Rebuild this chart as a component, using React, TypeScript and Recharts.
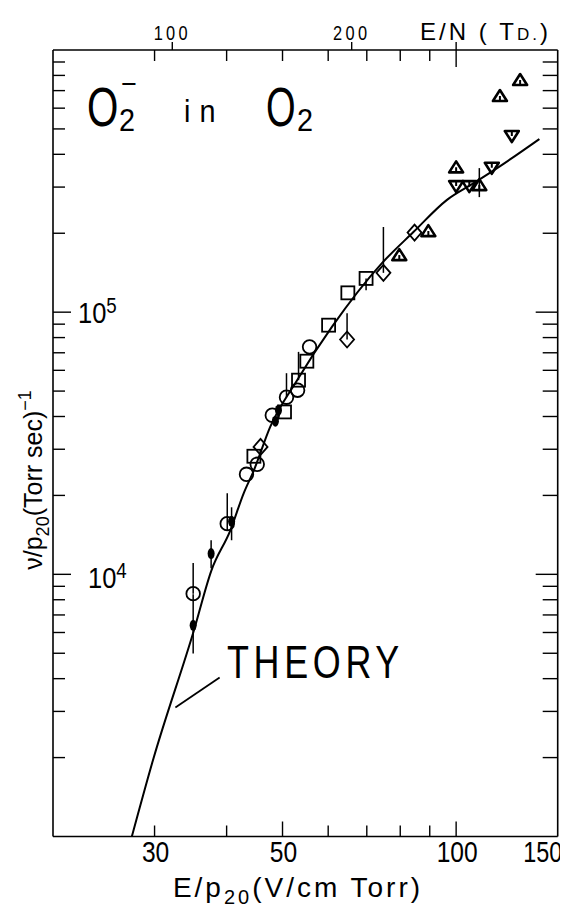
import React from 'react';
import { ComposedChart, Line, Scatter, XAxis, YAxis, ErrorBar, ReferenceLine } from 'recharts';

// Theory curve (E/p20 in V/cm Torr, nu/p20 in (Torr sec)^-1)
const theoryEp = [27.4, 29.8, 35.1, 37.65, 40.6, 42.8, 44.6, 47.6, 53.0, 60.9, 74.3, 84.4, 96.3, 107.1, 117.6, 139.4];
const theoryNu = [1000, 1950, 6110, 10360, 14720, 20330, 24940, 36500, 55030, 87870, 153500, 202500, 267600, 309900, 353600, 457500];

// measured points: [E/p20, nu/p20, error down, error up]
const circlePts = [
  [35.0, 8440, 0, 2600],
  [40.1, 15610, 890, 4770],
  [43.3, 24080],
  [45.2, 26290],
  [48.0, 40450],
  [50.8, 47380, 0, 11130],
  [53.1, 50390],
  [55.7, 73740],
];
const filledPts = [
  [35.0, 6390, 1400, 2000],
  [37.6, 12000, 1460, 1490],
  [40.8, 15930, 2440, 2090],
  [48.6, 38370],
  [49.2, 42270],
];
const squarePts = [
  [44.6, 28210],
  [50.4, 41640],
  [53.3, 55030, 0, 15530],
  [55.1, 65010],
  [60.1, 89200],
  [64.9, 118500],
  [69.8, 134500, 13200, 0],
];
const diamondPts = [
  [45.8, 30610],
  [64.7, 78660, 0, 20500],
  [74.8, 141250, 0, 70000],
  [84.7, 201100],
];
const triUpPts = [
  [79.7, 165100],
  [89.5, 203800],
  [100.0, 356700],
  [109.7, 305300, 30600, 49100],
  [119.1, 667400],
  [129.1, 768100],
];
const triDownPts = [
  [100.0, 302600],
  [105.4, 302600],
  [115.3, 355400],
  [124.9, 469700],
];

// leader line from the THEORY label to the curve
const leaderEp = [32.6, 38.9];
const leaderNu = [3108, 4045];

// ticks
const xTicks = [30, 40, 50, 60, 70, 80, 90, 100, 150];
const xMajor = [50, 100];
const xLabeled = [30, 50, 100, 150];
const topTicks = [30, 32.2, 40, 50, 60, 65.9, 70, 80, 90, 100];
const topLabelValues = [32.2, 65.9];
const topLabelTexts = ['100', '200'];
const yTicks = [
  2000, 3000, 4000, 5000, 6000, 7000, 8000, 9000,
  10000, 20000, 30000, 40000, 50000, 60000, 70000, 80000, 90000,
  100000, 200000, 300000, 400000, 500000, 600000, 700000, 800000, 900000,
];
const yMajor = [10000, 100000];
const yMajorExp = ['4', '5'];

const W = 560;
const H = 899;
const PLOT_TOP = 42;
const PLOT_LEFT = 45;
const PLOT_RIGHT = 549.7;
const PLOT_BOTTOM = 828.5;
const SANS = "'Liberation Sans', Arial, 'DejaVu Sans', sans-serif";
const K = '#000';

const toPts = (arr: number[][]) =>
  arr.map(([x, y, lo = 0, hi = 0]) => ({ x, y, err: [lo, hi] }));
const theoryData = theoryEp.map((x, i) => ({ x, y: theoryNu[i] }));

// condensed text: real text, horizontally scaled
const CT = ({ x, y, sx = 0.82, anchor = 'start', size, ls = 0, children }: any) => (
  <text
    transform={`translate(${x},${y}) scale(${sx},1)`}
    textAnchor={anchor}
    fontFamily={SANS}
    fontSize={size}
    letterSpacing={ls}
    fill={K}
  >
    {children}
  </text>
);

const CircleShape = (p: any) => (
  <circle cx={p.cx} cy={p.cy} r={6.8} fill="none" stroke={K} strokeWidth={1.8} />
);
const FilledShape = (p: any) => <ellipse cx={p.cx} cy={p.cy} rx={3.5} ry={5.5} fill={K} />;
const SquareShape = (p: any) => (
  <rect x={p.cx - 6.5} y={p.cy - 6.5} width={13} height={13} fill="none" stroke={K} strokeWidth={1.8} />
);
const DiamondShape = (p: any) => (
  <path
    d={`M${p.cx},${p.cy - 8} L${p.cx + 7},${p.cy} L${p.cx},${p.cy + 8} L${p.cx - 7},${p.cy} Z`}
    fill="none"
    stroke={K}
    strokeWidth={1.8}
  />
);
const TriUpShape = (p: any) => (
  <g>
    <path
      d={`M${p.cx - 7},${p.cy + 5} L${p.cx + 7},${p.cy + 5} L${p.cx},${p.cy - 6} Z`}
      fill="none"
      stroke={K}
      strokeWidth={2.6}
      strokeLinejoin="round"
    />
    <line x1={p.cx} x2={p.cx} y1={p.cy} y2={p.cy + 4} stroke={K} strokeWidth={2} />
  </g>
);
const TriDownShape = (p: any) => (
  <g>
    <path
      d={`M${p.cx - 7},${p.cy - 5} L${p.cx + 7},${p.cy - 5} L${p.cx},${p.cy + 6} Z`}
      fill="none"
      stroke={K}
      strokeWidth={2.6}
      strokeLinejoin="round"
    />
    <line x1={p.cx} x2={p.cx} y1={p.cy - 4} y2={p.cy} stroke={K} strokeWidth={2} />
  </g>
);

const BottomTick = (p: any) => {
  const { x, y, payload } = p;
  const v = payload.value;
  const len = xMajor.includes(v) ? 15 : 11;
  const labeled = xLabeled.includes(v);
  const last = v === xTicks[xTicks.length - 1];
  return (
    <g>
      {!last && <line x1={x} x2={x} y1={y} y2={y - len} stroke={K} strokeWidth={1.4} />}
      {labeled && (
        <CT x={last ? x - 15 : x + 1} y={y + 25} anchor="middle" size={30} sx={last ? 0.78 : 0.82}>
          {v}
        </CT>
      )}
    </g>
  );
};

const TopTick = (p: any) => {
  const { x, y, payload } = p;
  const v = payload.value;
  const li = topLabelValues.indexOf(v);
  const long = v === 100;
  return (
    <g>
      {li >= 0 ? (
        <line x1={x} x2={x} y1={y - 8} y2={y} stroke={K} strokeWidth={1.4} />
      ) : (
        <line x1={x} x2={x} y1={long ? y - 8 : y} y2={y + (long ? 17 : 11)} stroke={K} strokeWidth={1.4} />
      )}
      {li >= 0 && (
        <CT x={x} y={y - 10} anchor="middle" size={20} ls={4}>
          {topLabelTexts[li]}
        </CT>
      )}
    </g>
  );
};

const LeftTick = (p: any) => {
  const { x, y, payload } = p;
  const v = payload.value;
  const mi = yMajor.indexOf(v);
  const dx = [35, 25];
  const dy = [14, 11];
  return (
    <g>
      <line x1={x} x2={x + (mi >= 0 ? 18 : 12)} y1={y} y2={y} stroke={K} strokeWidth={1.4} />
      {mi >= 0 && (
        <CT x={x + dx[mi]} y={y + dy[mi]} sx={0.85} size={30}>
          10
          <tspan dy={-10} fontSize={22}>
            {yMajorExp[mi]}
          </tspan>
        </CT>
      )}
    </g>
  );
};

const RightTick = (p: any) => {
  const { x, y, payload } = p;
  const v = payload.value;
  const major = yMajor.includes(v);
  return <line x1={x} x2={x - (major ? 22 : 15)} y1={y} y2={y} stroke={K} strokeWidth={1.4} />;
};

export default function App() {
  return (
    <div style={{ position: 'relative', width: W, height: H, background: '#fff' }}>
      <ComposedChart width={W} height={H} margin={{ top: 0, left: 0, right: 0, bottom: 0 }}>
        <XAxis
          xAxisId={0}
          dataKey="x"
          type="number"
          scale="log"
          domain={[20, 150]}
          allowDataOverflow
          ticks={xTicks}
          interval={0}
          height={H - PLOT_BOTTOM}
          tickSize={0}
          tickMargin={0}
          tick={<BottomTick />}
          tickLine={false}
          axisLine={{ stroke: K, strokeWidth: 1.6 }}
        />
        <XAxis
          xAxisId="top"
          orientation="top"
          dataKey="x"
          type="number"
          scale="log"
          domain={[20, 150]}
          allowDataOverflow
          ticks={topTicks}
          interval={0}
          height={PLOT_TOP}
          tickSize={0}
          tickMargin={0}
          tick={<TopTick />}
          tickLine={false}
          axisLine={{ stroke: K, strokeWidth: 1.6 }}
        />
        <YAxis
          yAxisId={0}
          dataKey="y"
          type="number"
          scale="log"
          domain={[1000, 1000000]}
          allowDataOverflow
          ticks={yTicks}
          interval={0}
          width={PLOT_LEFT}
          tickSize={0}
          tickMargin={0}
          tick={<LeftTick />}
          tickLine={false}
          axisLine={{ stroke: K, strokeWidth: 1.6 }}
        />
        <YAxis
          yAxisId="right"
          orientation="right"
          type="number"
          scale="log"
          domain={[1000, 1000000]}
          allowDataOverflow
          ticks={yTicks}
          interval={0}
          width={W - PLOT_RIGHT}
          tickSize={0}
          tickMargin={0}
          tick={<RightTick />}
          tickLine={false}
          axisLine={{ stroke: K, strokeWidth: 1.6 }}
        />
        <Line
          data={theoryData}
          dataKey="y"
          type="monotone"
          stroke={K}
          strokeWidth={2}
          dot={false}
          activeDot={false}
          isAnimationActive={false}
        />
        <ReferenceLine
          segment={[
            { x: leaderEp[0], y: leaderNu[0] },
            { x: leaderEp[1], y: leaderNu[1] },
          ]}
          stroke={K}
          strokeWidth={1.8}
          ifOverflow="visible"
        />
        <Scatter data={toPts(circlePts)} shape={CircleShape} isAnimationActive={false}>
          <ErrorBar dataKey="err" direction="y" width={0} stroke={K} strokeWidth={1.5} isAnimationActive={false} />
        </Scatter>
        <Scatter data={toPts(filledPts)} shape={FilledShape} isAnimationActive={false}>
          <ErrorBar dataKey="err" direction="y" width={0} stroke={K} strokeWidth={1.5} isAnimationActive={false} />
        </Scatter>
        <Scatter data={toPts(squarePts)} shape={SquareShape} isAnimationActive={false}>
          <ErrorBar dataKey="err" direction="y" width={0} stroke={K} strokeWidth={1.5} isAnimationActive={false} />
        </Scatter>
        <Scatter data={toPts(diamondPts)} shape={DiamondShape} isAnimationActive={false}>
          <ErrorBar dataKey="err" direction="y" width={0} stroke={K} strokeWidth={1.5} isAnimationActive={false} />
        </Scatter>
        <Scatter data={toPts(triUpPts)} shape={TriUpShape} isAnimationActive={false}>
          <ErrorBar dataKey="err" direction="y" width={0} stroke={K} strokeWidth={1.5} isAnimationActive={false} />
        </Scatter>
        <Scatter data={toPts(triDownPts)} shape={TriDownShape} isAnimationActive={false}>
          <ErrorBar dataKey="err" direction="y" width={0} stroke={K} strokeWidth={1.5} isAnimationActive={false} />
        </Scatter>
      </ComposedChart>
      <svg
        width={W}
        height={H}
        style={{ position: 'absolute', left: 0, top: 0, pointerEvents: 'none', overflow: 'visible' }}
      >
        {/* title O2- in O2 */}
        <CT x={79} y={118} sx={0.72} size={56}>O</CT>
        <CT x={111} y={123} sx={0.9} size={32}>2</CT>
        <CT x={113} y={86} sx={0.9} size={30}>−</CT>
        <CT x={176} y={114} sx={0.9} size={32} ls={10}>in</CT>
        <CT x={258} y={118} sx={0.68} size={56}>O</CT>
        <CT x={289} y={123} sx={0.9} size={32}>2</CT>
        {/* THEORY label */}
        <CT x={219} y={670} sx={0.78} size={46} ls={6}>THEORY</CT>
        {/* top axis title */}
        <CT x={412} y={32} sx={1} size={24} ls={3}>
          E/N (&#160;T<tspan fontSize={17}>D.</tspan>)
        </CT>
        {/* x axis title */}
        <text x={290} y={889} textAnchor="middle" fontFamily={SANS} fontSize={28} letterSpacing={3} fill={K}>
          E/p
          <tspan dy={7} fontSize={20}>20</tspan>
          <tspan dy={-7}>(V/cm Torr)</tspan>
        </text>
        {/* y axis title */}
        <text
          transform="translate(34,472) rotate(-90)"
          textAnchor="middle"
          fontFamily={SANS}
          fontSize={25}
          fill={K}
        >
          ν/p
          <tspan dy={7} fontSize={18}>20</tspan>
          <tspan dy={-7}>(Torr&#160;sec)</tspan>
          <tspan dy={-11} fontSize={18}>−1</tspan>
        </text>
      </svg>
    </div>
  );
}
